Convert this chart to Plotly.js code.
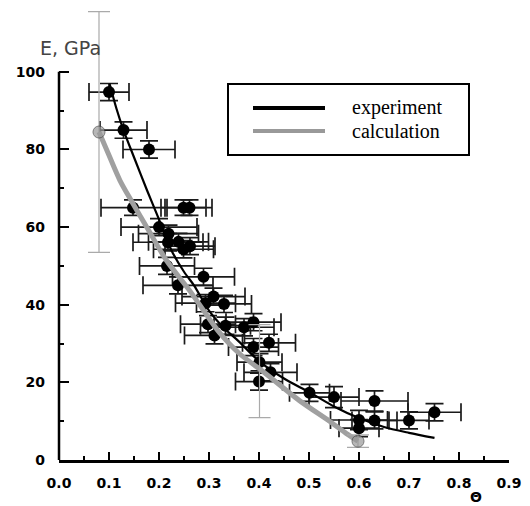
<!DOCTYPE html>
<html>
<head>
<meta charset="utf-8">
<script src="https://cdn.plot.ly/plotly-3.0.1.min.js"></script>
<style>html,body{margin:0;padding:0;background:#fff;}#chart{width:530px;height:506px;}</style>
</head>
<body>
<div id="chart"></div>
<script>
// Experimental points (Theta, E in GPa) with error estimates
const expTheta = [0.100,0.129,0.180,0.148,0.249,0.261,0.200,0.219,0.218,0.239,0.249,0.262,0.216,0.289,0.238,0.309,0.293,0.330,0.298,0.311,0.333,0.370,0.389,0.389,0.420,0.401,0.423,0.400,0.501,0.550,0.631,0.751,0.600,0.631,0.700,0.600];
const expE     = [94.8,85.0,80.0,65.0,65.0,65.0,60.0,58.3,56.1,56.2,54.3,55.1,50.0,47.2,45.0,42.1,40.4,40.2,35.0,32.1,34.6,34.2,35.5,29.1,30.2,25.2,22.6,20.2,17.3,16.2,15.2,12.3,10.3,10.2,10.2,8.2];
const expThetaErr = [0.040,0.047,0.052,0.064,0.045,0.045,0.076,0.060,0.070,0.060,0.060,0.050,0.055,0.062,0.070,0.063,0.060,0.055,0.055,0.060,0.050,0.060,0.055,0.050,0.053,0.045,0.053,0.047,0.040,0.050,0.067,0.053,0.057,0.045,0.040,0.040];
const expEErr  = [2.2,2.1,2.2,2.0,2.0,2.0,2.2,2.2,2.2,2.2,2.2,2.2,2.2,2.2,2.2,2.2,2.2,2.2,2.2,2.2,2.2,2.2,2.2,2.2,2.2,2.2,2.2,2.2,2.2,2.7,2.6,2.2,2.5,2.2,2.2,2.2];

// Experimental fit curve
const expCurveTheta = [0.101,0.115,0.129,0.150,0.176,0.200,0.225,0.250,0.270,0.300,0.330,0.360,0.400,0.450,0.500,0.550,0.600,0.650,0.700,0.751];
const expCurveE     = [97.0,90.5,85.0,78.0,69.5,62.0,54.0,48.5,45.0,38.5,34.0,30.5,25.5,21.0,17.5,13.8,10.8,8.5,7.0,5.7];

// Calculation curve
const calcCurveTheta = [0.080,0.100,0.122,0.146,0.180,0.215,0.261,0.300,0.321,0.360,0.408,0.481,0.541,0.575,0.598];
const calcCurveE     = [84.5,78.5,72.0,66.5,59.0,51.4,43.7,36.5,32.8,27.5,22.8,15.3,10.0,6.8,4.85];

// Calculation points with error bars
const calcTheta = [0.080,0.401,0.598];
const calcE     = [84.5,22.9,4.85];
const calcEErr  = [31,12,1.6];
const calcMarkerSize = [12,0,12];

// Tick labels
const xTickVals = [0,0.1,0.2,0.3,0.4,0.5,0.6,0.7,0.8,0.9];
const xTickText = ['0.0','0.1','0.2','0.3','0.4','0.5','0.6','0.7','0.8','0.9'];
const yTickVals = [0,20,40,60,80,100];
const yTickText = ['0','20','40','60','80','100'];
const yMinorVals = [10,30,50,70,90];

const seriesNames = ['experiment','calculation'];

const yMax = 118; // room above 100 for the large calculation error bar
const yAxisTop = 100;

const traces = [
  {
    x: expTheta, y: expE, type: 'scatter', mode: 'markers', showlegend: false,
    marker: {color: '#000', size: 12},
    error_x: {type: 'data', array: expThetaErr, visible: true, color: '#1a1a1a', thickness: 1.7, width: 9},
    error_y: {type: 'data', array: expEErr, visible: true, color: '#1a1a1a', thickness: 1.7, width: 9}
  },
  {
    x: expCurveTheta, y: expCurveE, type: 'scatter', mode: 'lines', showlegend: false,
    line: {color: '#000', width: 2.2, shape: 'spline', smoothing: 0.8}
  },
  {
    x: calcCurveTheta, y: calcCurveE, type: 'scatter', mode: 'lines', showlegend: false,
    line: {color: '#a0a0a0', width: 5, shape: 'spline', smoothing: 0.8}
  },
  {
    x: calcTheta, y: calcE, type: 'scatter', mode: 'markers', showlegend: false,
    marker: {color: '#999', size: calcMarkerSize, line: {color: '#444', width: 1}},
    error_y: {type: 'data', array: calcEErr, visible: true, color: '#aaa', thickness: 1.2, width: 11}
  }
];

const L = 59, R = 21, B = 46, W = 530, H = 506;
const zeroPx = H - B;            // pixel row of E = 0
const perUnit = 3.88;            // px per GPa
const T = Math.round(zeroPx - yMax * perUnit);
const pw = W - L - R, ph = H - T - B;
const px = v => (v - L) / pw;
const py = v => (zeroPx - v) / ph;

const layout = {
  width: W, height: H,
  margin: {l: L, r: R, t: T, b: B, pad: 0},
  paper_bgcolor: '#fff', plot_bgcolor: '#fff',
  showlegend: false,
  xaxis: {
    range: [0, 0.9], showgrid: false, zeroline: false,
    showline: true, linecolor: '#000', linewidth: 2.5,
    ticks: 'inside', ticklen: 8, tickwidth: 2, tickcolor: '#000',
    tickvals: xTickVals, ticktext: xTickText,
    tickfont: {family: 'DejaVu Sans', size: 14, color: '#000', weight: 'bold'},
    ticklabelstandoff: 9,
    minor: {dtick: 0.05, ticks: 'inside', ticklen: 4, tickwidth: 2, tickcolor: '#000'}
  },
  yaxis: {
    range: [0, yMax], showgrid: false, zeroline: false,
    showline: false,
    ticks: 'inside', ticklen: 10, tickwidth: 2, tickcolor: '#000',
    tickvals: yTickVals, ticktext: yTickText,
    tickfont: {family: 'DejaVu Sans', size: 14, color: '#000', weight: 'bold'},
    ticklabelstandoff: 13,
    minor: {tickvals: yMinorVals, ticks: 'inside', ticklen: 5, tickwidth: 2, tickcolor: '#000'}
  },
  shapes: [
    {type: 'line', xref: 'paper', yref: 'y', x0: 0, x1: 0, y0: 0, y1: yAxisTop, line: {color: '#000', width: 2.5}, layer: 'above'},
    {type: 'rect', xref: 'paper', yref: 'paper', x0: px(228), x1: px(469), y0: py(155), y1: py(84), line: {color: '#000', width: 2}, fillcolor: '#fff', layer: 'above'},
    {type: 'line', xref: 'paper', yref: 'paper', x0: px(253), x1: px(325), y0: py(108), y1: py(108), line: {color: '#000', width: 4}, layer: 'above'},
    {type: 'line', xref: 'paper', yref: 'paper', x0: px(253), x1: px(325), y0: py(131), y1: py(131), line: {color: '#999', width: 4}, layer: 'above'}
  ],
  annotations: [
    {text: seriesNames[0], xref: 'paper', yref: 'paper', x: px(350), y: py(107), xanchor: 'left', yanchor: 'middle', showarrow: false,
     font: {family: 'Liberation Serif', size: 20, color: '#000'}},
    {text: seriesNames[1], xref: 'paper', yref: 'paper', x: px(350), y: py(131), xanchor: 'left', yanchor: 'middle', showarrow: false,
     font: {family: 'Liberation Serif', size: 20, color: '#000'}},
    {text: 'E, GPa', xref: 'paper', yref: 'paper', x: px(70), y: py(48), xanchor: 'center', yanchor: 'middle', showarrow: false,
     font: {family: 'DejaVu Sans', size: 19, color: '#444'}},
    {text: 'Θ', xref: 'paper', yref: 'paper', x: px(476), y: py(497), xanchor: 'center', yanchor: 'middle', showarrow: false,
     font: {family: 'DejaVu Sans', size: 14, color: '#000', weight: 'bold'}}
  ]
};

Plotly.newPlot('chart', traces, layout, {displayModeBar: false, staticPlot: true});
</script>
</body>
</html>
